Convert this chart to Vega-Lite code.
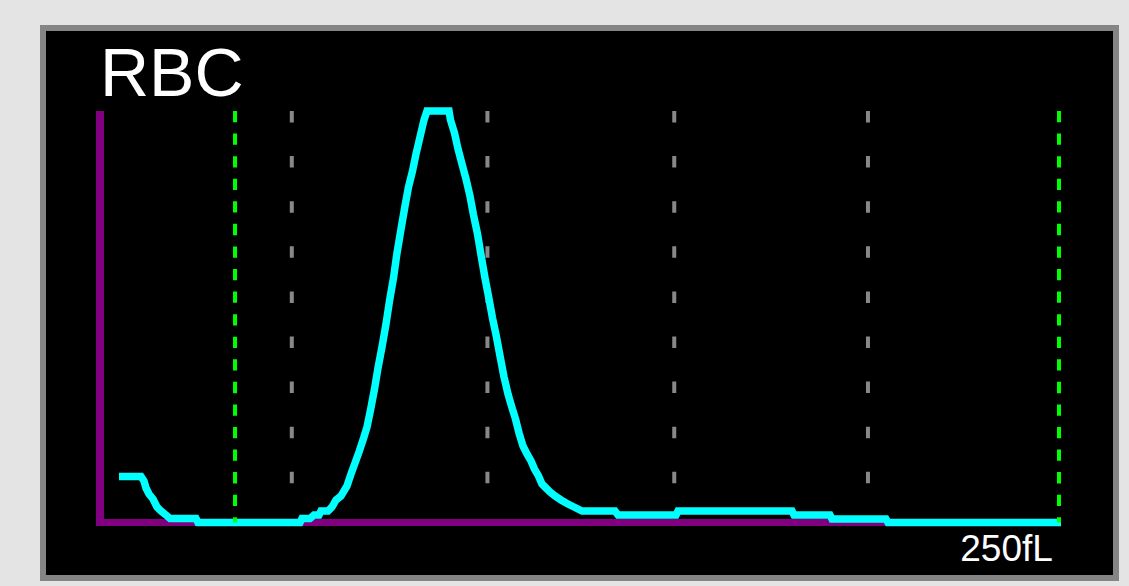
{
  "$schema": "https://vega.github.io/schema/vega-lite/v6.json",
  "width": 1073,
  "height": 550,
  "autosize": {"type": "none"},
  "padding": {"left": 43, "top": 28, "right": 13, "bottom": 8},
  "background": "#e4e4e4",
  "config": {
    "view": {"fill": "#000000", "stroke": "#858585", "strokeWidth": 6},
    "axis": {"disable": true}
  },
  "datasets": {
    "curve": [
      {"fl": 4.95, "count": 11.18}, {"fl": 10.69, "count": 11.18}, {"fl": 11.47, "count": 10.08},
      {"fl": 11.99, "count": 8.38}, {"fl": 12.77, "count": 6.93}, {"fl": 13.82, "count": 5.71},
      {"fl": 14.86, "count": 3.77}, {"fl": 15.9, "count": 2.79}, {"fl": 17.21, "count": 1.82},
      {"fl": 18.25, "count": 0.97}, {"fl": 25.03, "count": 0.97}, {"fl": 25.55, "count": 0},
      {"fl": 52.14, "count": 0}, {"fl": 52.66, "count": 0.97}, {"fl": 54.74, "count": 0.97},
      {"fl": 55.79, "count": 1.82}, {"fl": 57.09, "count": 1.82}, {"fl": 57.61, "count": 2.79},
      {"fl": 59.44, "count": 2.79}, {"fl": 60.48, "count": 3.77}, {"fl": 61.52, "count": 5.47},
      {"fl": 62.83, "count": 6.44}, {"fl": 64.39, "count": 8.87}, {"fl": 65.43, "count": 11.79},
      {"fl": 66.48, "count": 14.46}, {"fl": 67.52, "count": 17.13}, {"fl": 68.56, "count": 20.05},
      {"fl": 69.6, "count": 23.21}, {"fl": 70.52, "count": 27.34}, {"fl": 71.56, "count": 32.44},
      {"fl": 72.47, "count": 37.55}, {"fl": 73.51, "count": 42.65}, {"fl": 74.56, "count": 48.24},
      {"fl": 75.47, "count": 53.83}, {"fl": 76.51, "count": 59.42}, {"fl": 77.42, "count": 65.49},
      {"fl": 78.47, "count": 71.32}, {"fl": 79.51, "count": 76.91}, {"fl": 80.42, "count": 81.53},
      {"fl": 81.47, "count": 85.42}, {"fl": 82.38, "count": 89.55}, {"fl": 83.42, "count": 93.68},
      {"fl": 84.46, "count": 97.81}, {"fl": 85.24, "count": 100}, {"fl": 90.98, "count": 100},
      {"fl": 91.37, "count": 97.81}, {"fl": 92.41, "count": 94.65}, {"fl": 93.33, "count": 90.77},
      {"fl": 94.37, "count": 87.12}, {"fl": 95.41, "count": 83.47}, {"fl": 96.45, "count": 79.34},
      {"fl": 97.37, "count": 74.73}, {"fl": 98.41, "count": 70.11}, {"fl": 99.32, "count": 65.01},
      {"fl": 100.36, "count": 59.42}, {"fl": 101.41, "count": 54.31}, {"fl": 102.32, "count": 49.7},
      {"fl": 103.36, "count": 45.08}, {"fl": 104.28, "count": 40.46}, {"fl": 105.32, "count": 35.36},
      {"fl": 106.36, "count": 31.23}, {"fl": 107.27, "count": 28.31}, {"fl": 108.32, "count": 25.15},
      {"fl": 109.23, "count": 21.75}, {"fl": 110.27, "count": 18.59}, {"fl": 111.31, "count": 16.65},
      {"fl": 112.36, "count": 14.95}, {"fl": 113.27, "count": 13.0}, {"fl": 114.31, "count": 11.3},
      {"fl": 115.22, "count": 9.36}, {"fl": 116.27, "count": 8.38}, {"fl": 117.31, "count": 7.41},
      {"fl": 118.61, "count": 6.44}, {"fl": 120.18, "count": 5.47}, {"fl": 121.74, "count": 4.62},
      {"fl": 123.57, "count": 3.77}, {"fl": 125.65, "count": 2.79}, {"fl": 134.25, "count": 2.79},
      {"fl": 135.04, "count": 1.82}, {"fl": 150.16, "count": 1.82}, {"fl": 150.68, "count": 2.79},
      {"fl": 180.4, "count": 2.79}, {"fl": 180.92, "count": 1.82}, {"fl": 190.3, "count": 1.82},
      {"fl": 190.82, "count": 0.85}, {"fl": 204.9, "count": 0.85}, {"fl": 205.42, "count": 0},
      {"fl": 250.52, "count": 0}
    ],
    "grid": [{"fl": 50}, {"fl": 101}, {"fl": 149.7}, {"fl": 200.2}],
    "disc": [{"fl": 35.2}, {"fl": 250}],
    "labels": [{"title": "RBC", "unit": "250fL"}]
  },
  "layer": [
    {
      "data": {"name": "grid"},
      "mark": {"type": "rule", "color": "#888888", "strokeWidth": 4, "strokeDash": [11.5, 33.6]},
      "encoding": {
        "x": {"field": "fl", "type": "quantitative", "scale": {"domain": [-14.859, 264.859], "nice": false, "zero": false}},
        "y": {"datum": 100, "type": "quantitative", "scale": {"domain": [-13.487, 120.17], "nice": false, "zero": false}},
        "y2": {"datum": 2}
      }
    },
    {
      "data": {"name": "labels"},
      "mark": {"type": "rule", "color": "#800080", "strokeWidth": 8},
      "encoding": {
        "x": {"datum": 0, "type": "quantitative"},
        "y": {"datum": 100, "type": "quantitative"},
        "y2": {"datum": -0.85}
      }
    },
    {
      "data": {"name": "labels"},
      "mark": {"type": "rule", "color": "#800080", "strokeWidth": 7},
      "encoding": {
        "x": {"datum": -1.04, "type": "quantitative"},
        "x2": {"datum": 250},
        "y": {"datum": 0, "type": "quantitative"}
      }
    },
    {
      "data": {"name": "curve"},
      "mark": {"type": "line", "color": "#00ffff", "strokeWidth": 7.5, "strokeCap": "butt", "strokeJoin": "miter"},
      "encoding": {
        "x": {"field": "fl", "type": "quantitative"},
        "y": {"field": "count", "type": "quantitative"}
      }
    },
    {
      "data": {"name": "disc"},
      "mark": {"type": "rule", "color": "#00ff00", "strokeWidth": 4, "strokeDash": [11.3, 11.27]},
      "encoding": {
        "x": {"field": "fl", "type": "quantitative"},
        "y": {"datum": 100, "type": "quantitative"},
        "y2": {"datum": 0}
      }
    },
    {
      "data": {"name": "labels"},
      "mark": {"type": "text", "color": "#ffffff", "font": "Liberation Sans", "fontSize": 68, "align": "left", "baseline": "alphabetic"},
      "encoding": {
        "x": {"datum": 0, "type": "quantitative"},
        "y": {"datum": 103.6, "type": "quantitative"},
        "text": {"field": "title"}
      }
    },
    {
      "data": {"name": "labels"},
      "mark": {"type": "text", "color": "#ffffff", "font": "Liberation Sans", "fontSize": 37, "align": "right", "baseline": "alphabetic"},
      "encoding": {
        "x": {"datum": 248.4, "type": "quantitative"},
        "y": {"datum": -9.36, "type": "quantitative"},
        "text": {"field": "unit"}
      }
    }
  ]
}
